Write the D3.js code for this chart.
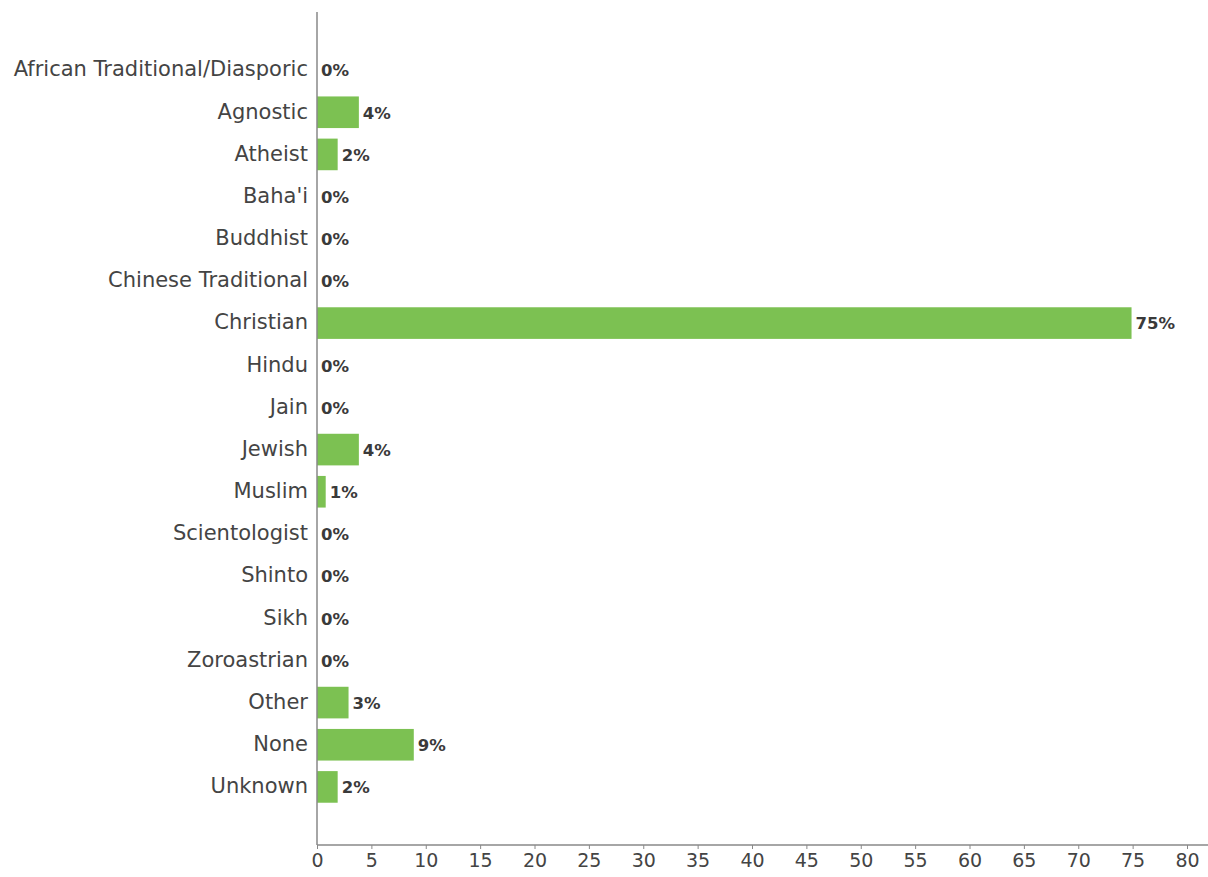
<!DOCTYPE html>
<html>
<head>
<meta charset="utf-8">
<script src="https://cdn.jsdelivr.net/npm/d3@7"></script>
<style>
  body { margin: 0; background: #fff; }
</style>
</head>
<body>
<div id="chart"></div>
<script>
const categories = ["African Traditional/Diasporic", "Agnostic", "Atheist", "Baha'i", "Buddhist",
  "Chinese Traditional", "Christian", "Hindu", "Jain", "Jewish", "Muslim", "Scientologist",
  "Shinto", "Sikh", "Zoroastrian", "Other", "None", "Unknown"];
const values = [0, 3.85, 1.9, 0, 0, 0, 74.9, 0, 0, 3.85, 0.8, 0, 0, 0, 0, 2.9, 8.9, 1.9];
const valueLabels = ["0%", "4%", "2%", "0%", "0%", "0%", "75%", "0%", "0%", "4%", "1%", "0%",
  "0%", "0%", "0%", "3%", "9%", "2%"];
const xTicks = d3.range(0, 81, 5);

const width = 1208, height = 877;
const x0 = 317, axisY = 845;

const svg = d3.select("#chart").append("svg")
  .attr("width", width)
  .attr("height", height);

const x = d3.scaleLinear().domain([0, 80]).range([x0, 1187]);
const y = d3.scaleBand().domain(categories).range([49, 808]).paddingInner(0.25).paddingOuter(0.125);

// bars
svg.selectAll("rect.bar")
  .data(categories)
  .enter()
  .append("rect")
  .attr("class", "bar")
  .attr("x", x(0))
  .attr("y", d => y(d))
  .attr("width", (d, i) => x(values[i]) - x(0))
  .attr("height", y.bandwidth())
  .style("fill", "#7cc152");

// value labels
svg.selectAll("text.val")
  .data(categories)
  .enter()
  .append("text")
  .attr("class", "val")
  .attr("x", (d, i) => x(values[i]) + 4)
  .attr("y", d => y(d) + y.bandwidth() / 2)
  .attr("dy", "0.38em")
  .text((d, i) => valueLabels[i])
  .style("font-family", "'DejaVu Sans', sans-serif")
  .style("font-size", "16.5px")
  .style("font-weight", "bold")
  .style("fill", "#3a3a3a");

// category labels
const yAxis = svg.append("g")
  .attr("transform", `translate(${x0},0)`)
  .call(d3.axisLeft(y).tickSize(0).tickPadding(9));
yAxis.select(".domain").remove();
yAxis.selectAll("text")
  .attr("dy", "0.3em")
  .style("font-family", "'DejaVu Sans', sans-serif")
  .style("font-size", "21px")
  .style("fill", "#444");

// left axis line
svg.append("line")
  .attr("x1", x0).attr("x2", x0)
  .attr("y1", 12).attr("y2", axisY)
  .style("stroke", "#888")
  .style("stroke-width", 1.5);

// x axis
const xAxis = svg.append("g")
  .attr("transform", `translate(0,${axisY})`)
  .call(d3.axisBottom(x).tickValues(xTicks).tickSize(4).tickPadding(5));
xAxis.select(".domain").remove();
xAxis.selectAll("line").style("stroke", "#888");
xAxis.selectAll("text")
  .style("font-family", "'DejaVu Sans', sans-serif")
  .style("font-size", "19px")
  .style("fill", "#444");

svg.append("line")
  .attr("x1", x0).attr("x2", 1208)
  .attr("y1", axisY).attr("y2", axisY)
  .style("stroke", "#888")
  .style("stroke-width", 1.5);
</script>
</body>
</html>
